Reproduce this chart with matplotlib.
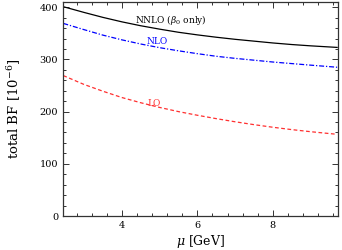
#! /usr/bin/env python3

import numpy as np
from matplotlib import pyplot as plt
from matplotlib.ticker import MultipleLocator

plt.rcParams['font.family'] = 'DejaVu Serif'
plt.rcParams['mathtext.fontset'] = 'dejavuserif'

# values
mu = [2.45, 3.0, 3.5, 4.0, 4.5, 5.0, 5.5, 6.0, 6.5, 7.0, 7.5, 8.0, 8.5, 9.0, 9.7]
bf_lo = [269, 252, 239, 227, 217, 208, 200, 193, 186.5, 180.5, 175, 170, 165.5, 161.5, 156.5]
bf_nlo = [369, 357, 346.5, 337.5, 329.5, 322.5, 316.5, 311, 306, 302, 298.5, 295, 292, 289, 285]
bf_nnlo = [401, 390, 380.5, 372, 364.5, 358, 352, 347, 342.5, 338.5, 335, 331.5, 328.5, 326, 323]

fig = plt.figure(figsize=(3.42, 2.5), dpi=100)
ax = fig.add_axes([0.184, 0.136, 0.804, 0.856])

ax.plot(mu, bf_nnlo, color='black', lw=0.9)
ax.plot(mu, bf_nlo, color='blue', lw=0.9, dashes=[4, 1.5, 1, 1.5])
ax.plot(mu, bf_lo, color='#ff3030', lw=0.9, dashes=[3, 2])

ax.text(4.34, 375, r'NNLO ($\beta_0$ only)', fontsize=6.5, color='black', va='center')
ax.text(4.66, 335, 'NLO', fontsize=6.5, color='blue', va='center')
ax.text(4.69, 216, 'LO', fontsize=6.5, color='#ff3030', va='center')

ax.set_xlim(2.44, 9.72)
ax.set_ylim(0, 410)
ax.xaxis.set_major_locator(MultipleLocator(2))
ax.xaxis.set_minor_locator(MultipleLocator(0.4))
ax.yaxis.set_major_locator(MultipleLocator(100))
ax.yaxis.set_minor_locator(MultipleLocator(20))
ax.tick_params(which='both', direction='in', top=True, right=True,
               labelsize=7, color='#333333', width=0.7)
ax.tick_params(which='major', length=4)
ax.tick_params(which='minor', length=2)
for sp in ax.spines.values():
    sp.set_linewidth(0.9)
    sp.set_color('#333333')

ax.set_xlabel(r'$\mu$ [GeV]', fontsize=9, labelpad=2)
ax.set_ylabel(r'total BF [10$^{-6}$]', fontsize=9.5, labelpad=12)

fig.savefig('out.png', dpi=100)
